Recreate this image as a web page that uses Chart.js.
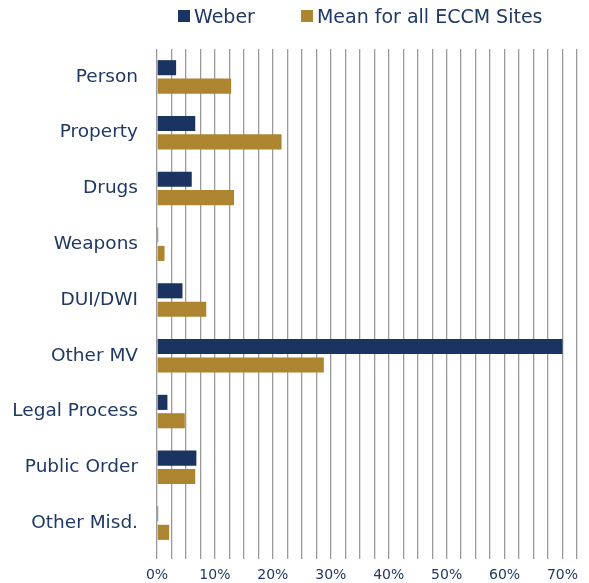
<!DOCTYPE html>
<html>
<head>
<meta charset="utf-8">
<script src="https://cdn.jsdelivr.net/npm/chart.js@4.4.0/dist/chart.umd.min.js"></script>
<style>
  body { margin: 0; background: #fff; }
  #wrap { position: relative; width: 589px; height: 583px; }
  #legend { position: absolute; top: 5px; left: 178px; font-family: "DejaVu Sans", sans-serif; font-size: 19px; color: #1f3864; display: flex; }
  #legend span.item { display: flex; align-items: center; margin-right: 46px; }
  #legend span.box { display: inline-block; width: 12px; height: 12px; margin-right: 4px; }
</style>
</head>
<body>
<div id="wrap">
  <div id="legend"></div>
  <canvas id="barchart" width="589" height="583"></canvas>
</div>
<script>
// categorias y valores (en %)
const categories = ['Person', 'Property', 'Drugs', 'Weapons', 'DUI/DWI', 'Other MV', 'Legal Process', 'Public Order', 'Other Misd.'];
const weber = [3.3, 6.6, 6.0, 0.2, 4.4, 70.0, 1.8, 6.8, 0.2];
const meanAll = [12.8, 21.5, 13.3, 1.3, 8.5, 28.8, 4.8, 6.6, 2.1];
const tickLabels = ['0%', '10%', '20%', '30%', '40%', '50%', '60%', '70%'];

const navy = '#1b3360';
const gold = '#ad842f';
const textColor = '#1f3864';

const ctx = document.getElementById('barchart').getContext('2d');
const barchart = new Chart(ctx, {
    type: 'bar',
    data: {
        labels: categories,
        datasets: [{
            label: 'Weber',
            data: weber,
            backgroundColor: navy,
            borderWidth: 0
        }, {
            label: 'Mean for all ECCM Sites',
            data: meanAll,
            backgroundColor: gold,
            borderWidth: 0
        }]
    },
    options: {
        indexAxis: 'y',
        responsive: false,
        animation: false,
        layout: { padding: { top: 49, right: 12, left: 10, bottom: 0 } },
        datasets: {
            bar: { categoryPercentage: 0.66, barPercentage: 0.82 }
        },
        plugins: {
            legend: { display: false },
            tooltip: { enabled: false }
        },
        scales: {
            x: {
                min: 0,
                max: 72.5,
                afterFit: function (scale) { scale.height = 32; }, // alto fijo del eje
                ticks: {
                    stepSize: 2.5,
                    autoSkip: false,
                    color: textColor,
                    padding: 8,
                    font: { family: 'DejaVu Sans', size: 14 },
                    maxRotation: 0,
                    callback: function (value) {
                        if (Math.abs(value % 10) < 0.001) return tickLabels[Math.round(value / 10)];
                        return '';
                    }
                },
                grid: { color: '#9a9a9a', lineWidth: 1.3, tickLength: 8, tickColor: '#9a9a9a' },
                border: { display: false }
            },
            y: {
                afterFit: function (scale) { scale.width = 147; }, // ancho fijo de etiquetas
                ticks: {
                    color: textColor,
                    padding: 19,
                    font: { family: 'DejaVu Sans', size: 18.5 }
                },
                grid: { display: false, drawTicks: false },
                border: { display: false }
            }
        }
    }
});

// leyenda en html
const legend = document.getElementById('legend');
barchart.data.datasets.forEach(function (ds) {
    const item = document.createElement('span');
    item.className = 'item';
    item.innerHTML = '<span class="box" style="background:' + ds.backgroundColor + '"></span>' + ds.label;
    legend.appendChild(item);
});
</script>
</body>
</html>
